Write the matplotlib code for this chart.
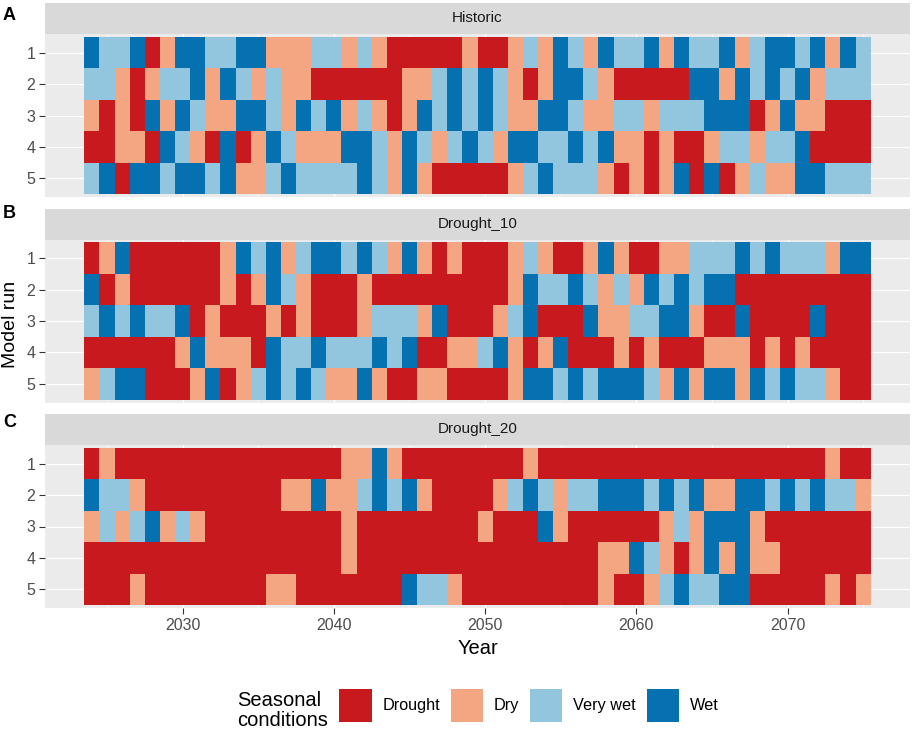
import matplotlib
matplotlib.use("Agg")
import matplotlib.pyplot as plt
import numpy as np
from matplotlib.colors import ListedColormap, BoundaryNorm
from matplotlib.patches import Rectangle

plt.rcParams["font.family"] = ["Liberation Sans", "DejaVu Sans"]

# ---- data ----
first_year, last_year = 2024, 2075
runs = [1, 2, 3, 4, 5]
scenarios = ["Historic", "Drought_10", "Drought_20"]
tags = ["A", "B", "C"]
conditions = ["Drought", "Dry", "Very wet", "Wet"]
cond_colors = ["#C8191E", "#F4A582", "#92C5DE", "#0571B0"]
# D=Drought, R=Dry, V=Very wet, W=Wet ; one string per model run, one letter per year
code = {"D": 0, "R": 1, "V": 2, "W": 3}

historic = [
    "WVVWD RWWVV WWRRR VVRVR DDDDD RDDRV RWVRW VVWRW VVWRV WWVWR WV",
    "VVRDR VVWRW VRVRR DDDDD DRRVW VWVRD RWWVR DDDDD WWRWV WVWRV VV",
    "RDRDW RWVRR WWVRW VWRVR DRWVW VWVRR WWVRR VVRVV VWWWD RWRRD DD",
    "DDRRD WVRDW DRWVR RRWWV RWVRV WVRWW VVWVW RRDRD DRVVR VVWDD DD",
    "VWDWW VWWVW RRVWV VVVWV RWRDD DDDRV WVVVR DRDRW DWDRV RRWWV VV",
]
drought_10 = [
    "DRWDD DDDDR WVWRV WWVWV RWRDR DDDRV RDDRW RDDRR VVVWV WVVVR WW",
    "WDRDD DDDDR DRWVR DDDRD DDDDD DDDRW VVWVR VRWVW VWWDD DDDDD DD",
    "VWVWV VWDRD DDRDR DDDRV VVRWD DDRVW DDDWR RVVWW RDDWD DDDWD DD",
    "DDDDD DRWRR RDWVV WVVVW VWDDR RVWRD RWDDD RDRDD DRRRD RDRDD DD",
    "RVWWD DDRWD RVWVW VRRWR DDRRD DDDRW WVWVW WWVRW RWWRW VWVVR DD",
]
drought_20 = [
    "DRDDD DDDDD DDDDD DDRRW RDDDD DDDDR DDDDD DDDDD DDDDD DDDDR DD",
    "WVVRD DDDDD DDDRR WRRVW VWRDD DDRVW VRVVW WWVWV WRRWW VWVWV VR",
    "RVRVW RVRDD DDDDD DDRDD DDDDD DRDDD WRDDD DDDRV RWWWR DDDDD DD",
    "DDDDD DDDDD DDDDD DDRDD DDDDD DDDDD DDDDR RWVRD RWRWR RDDDD DD",
    "DDDRD DDDDD DDRRD DDDDD DWVVR DDDDD DDDDR DDRVW VVWWD DDDDR DR",
]
panels = [historic, drought_10, drought_20]

# ---- layout (pixels) ----
W, H = 913, 731
def fx(px):
    return px / W
def fy(py):
    return 1 - py / H

panel_left, panel_right = 45, 910
panel_tops = [34, 239.5, 445]
panel_h = 163
strip_h = 31
tag_base = [20, 218, 427]

years = np.arange(first_year, last_year + 1)
x_edges = np.append(years - 0.5, years[-1] + 0.5)
y_edges = np.append(np.array(runs) - 0.5, runs[-1] + 0.5)
cmap = ListedColormap(cond_colors)
norm = BoundaryNorm([-0.5, 0.5, 1.5, 2.5, 3.5], cmap.N)
span = x_edges[-1] - x_edges[0]
xlim = (x_edges[0] - 0.05 * span, x_edges[-1] + 0.05 * span)

fig = plt.figure(figsize=(W / 100, H / 100), dpi=100)

for i, (rows, name, tag) in enumerate(zip(panels, scenarios, tags)):
    top = panel_tops[i]
    ax = fig.add_axes([fx(panel_left), fy(top + panel_h), fx(panel_right) - fx(panel_left), panel_h / H])
    ax.set_facecolor("#EBEBEB")
    grid = np.array([[code[c] for c in r.replace(" ", "")] for r in rows])
    ax.pcolormesh(x_edges, y_edges, grid, cmap=cmap, norm=norm, shading="flat",
                  antialiased=False, edgecolors="none", zorder=2)
    ax.set_xlim(*xlim)
    ax.set_ylim(5.59, 0.41)
    ax.set_xticks(np.arange(2030, 2071, 10))
    ax.set_xticks(np.arange(2025, 2076, 10), minor=True)
    ax.set_yticks(runs)
    ax.grid(True, which="major", color="white", lw=0.9, zorder=0)
    ax.grid(True, which="minor", axis="x", color="white", lw=0.45, zorder=0)
    ax.set_axisbelow(True)
    for s in ax.spines.values():
        s.set_visible(False)
    ax.tick_params(axis="y", which="major", length=4, width=0.8, color="#333333",
                   labelcolor="#4D4D4D", labelsize=11.5, pad=3)
    ax.tick_params(axis="x", which="minor", length=0)
    if i < 2:
        ax.tick_params(axis="x", which="major", length=0, labelbottom=False)
    else:
        ax.tick_params(axis="x", which="major", length=4, width=0.8, color="#333333",
                       labelcolor="#4D4D4D", labelsize=11.5, pad=3)

    sax = fig.add_axes([fx(panel_left), fy(top), fx(panel_right) - fx(panel_left), strip_h / H])
    sax.set_facecolor("#D9D9D9")
    sax.set_xticks([]); sax.set_yticks([])
    for s in sax.spines.values():
        s.set_visible(False)
    sax.text(0.5, 0.5, name, ha="center", va="center", fontsize=11, color="#1A1A1A",
             transform=sax.transAxes)

    fig.text(fx(3), fy(tag_base[i]), tag, fontsize=13, fontweight="bold",
             ha="left", va="baseline", color="black")

fig.text(fx(10.5), fy(324.5), "Model run", rotation=90, ha="center", va="center",
         fontsize=14, color="black")
fig.text(fx(477.5), fy(648), "Year", ha="center", va="center", fontsize=14.5, color="black")

# ---- legend ----
fig.text(fx(236.7), fy(710.5), "Seasonal\nconditions", ha="left", va="center",
         fontsize=14.5, linespacing=1.05, color="black")
key_x = [339.3, 451, 530, 647]
for kx, lab, col in zip(key_x, conditions, cond_colors):
    fig.add_artist(Rectangle((fx(kx), fy(721.7)), 32.4 / W, 32.4 / H,
                             transform=fig.transFigure, facecolor=col, edgecolor="none"))
    fig.text(fx(kx + 43), fy(705.5), lab, ha="left", va="center", fontsize=11.7,
             color="black")

fig.savefig("out.png", dpi=100)
